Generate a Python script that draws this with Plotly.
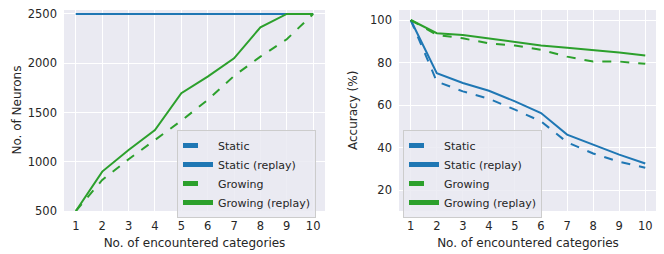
import plotly.graph_objects as go

categories = [1, 2, 3, 4, 5, 6, 7, 8, 9, 10]

neurons_static = [2500, 2500, 2500, 2500, 2500, 2500, 2500, 2500, 2500, 2500]
neurons_static_replay = [2500, 2500, 2500, 2500, 2500, 2500, 2500, 2500, 2500, 2500]
neurons_growing = [500, 815, 1025, 1221, 1417, 1627, 1871, 2067, 2243, 2500]
neurons_growing_replay = [500, 900, 1119, 1322, 1695, 1864, 2050, 2365, 2500, 2500]

acc_static = [100, 71.1, 66.5, 63.0, 57.9, 52.4, 42.6, 37.3, 33.4, 30.6]
acc_static_replay = [100, 75.0, 70.4, 66.8, 61.8, 56.3, 46.2, 41.5, 36.8, 32.6]
acc_growing = [100, 93.0, 91.4, 89.0, 88.0, 86.0, 82.8, 80.5, 80.5, 79.4]
acc_growing_replay = [100, 93.8, 93.0, 91.4, 89.9, 88.0, 87.0, 86.0, 84.7, 83.3]

series_names = ["Static", "Static (replay)", "Growing", "Growing (replay)"]

BLUE = "#1f77b4"
GREEN = "#2ca02c"
styles = [(BLUE, "dash"), (BLUE, "solid"), (GREEN, "dash"), (GREEN, "solid")]

fig = go.Figure()

left = [neurons_static, neurons_static_replay, neurons_growing, neurons_growing_replay]
right = [acc_static, acc_static_replay, acc_growing, acc_growing_replay]

for name, ys, (c, d) in zip(series_names, left, styles):
    fig.add_trace(go.Scatter(x=categories, y=ys, name=name, mode="lines",
                             line=dict(color=c, dash=d, width=2),
                             xaxis="x", yaxis="y", legend="legend"))
for name, ys, (c, d) in zip(series_names, right, styles):
    fig.add_trace(go.Scatter(x=categories, y=ys, name=name, mode="lines",
                             line=dict(color=c, dash=d, width=2),
                             xaxis="x2", yaxis="y2", legend="legend2"))

# page body has an 8px margin; figure is placed at (8, 8)
OFF = 8
W, H = 664 - OFF, 254 - OFF


def px_x(v):
    return (v - OFF) / W


def px_y(v):
    return 1 - (v - OFF) / H


font = dict(family="DejaVu Sans", size=12, color="#262626")

axis_common = dict(showline=False, zeroline=False, ticks="", gridcolor="white",
                   gridwidth=1, automargin=False, ticklabelstandoff=6,
                   ticklabeloverflow="allow",
                   tickfont=dict(family="DejaVu Sans", size=11.5, color="#262626"))

legend_common = dict(bgcolor="rgba(234,234,242,0.85)", bordercolor="#cccccc", borderwidth=1,
                     font=dict(family="DejaVu Sans", size=11, color="#262626"),
                     xanchor="left", yanchor="top", itemwidth=30, tracegroupgap=0,
                     itemsizing="constant")

fig.update_layout(
    width=W, height=H,
    margin=dict(l=0, r=0, t=0, b=0, autoexpand=False),
    paper_bgcolor="white", plot_bgcolor="#EAEAF2",
    font=font,
    showlegend=True,
    xaxis=dict(domain=[px_x(64), px_x(325)], range=[0.55, 10.45], tickmode="array",
               tickvals=categories, ticktext=[str(c) for c in categories],
               title=dict(text="No. of encountered categories", standoff=7, font=dict(size=12)),
               anchor="y", **axis_common),
    yaxis=dict(domain=[px_y(211), px_y(10)], range=[500, 2540], tickvals=[500, 1000, 1500, 2000, 2500],
               anchor="x", **axis_common),
    xaxis2=dict(domain=[px_x(399), px_x(657)], range=[0.55, 10.45], tickmode="array",
                tickvals=categories, ticktext=[str(c) for c in categories],
                title=dict(text="No. of encountered categories", standoff=7, font=dict(size=12)),
                anchor="y2", **axis_common),
    yaxis2=dict(domain=[px_y(211), px_y(10)], range=[10.3, 104.7], tickvals=[20, 40, 60, 80, 100],
                anchor="x2", **axis_common),
    legend=dict(x=px_x(177), y=px_y(130), **legend_common),
    legend2=dict(x=px_x(403), y=px_y(130), **legend_common),
    annotations=[
        dict(text="No. of Neurons", xref="paper", yref="paper", x=px_x(16), y=px_y(110.5),
             xanchor="center", yanchor="middle", textangle=-90, showarrow=False,
             font=dict(family="DejaVu Sans", size=12, color="#262626")),
        dict(text="Accuracy (%)", xref="paper", yref="paper", x=px_x(353), y=px_y(111),
             xanchor="center", yanchor="middle", textangle=-90, showarrow=False,
             font=dict(family="DejaVu Sans", size=12, color="#262626")),
    ],
)

fig.write_html("out.html")
